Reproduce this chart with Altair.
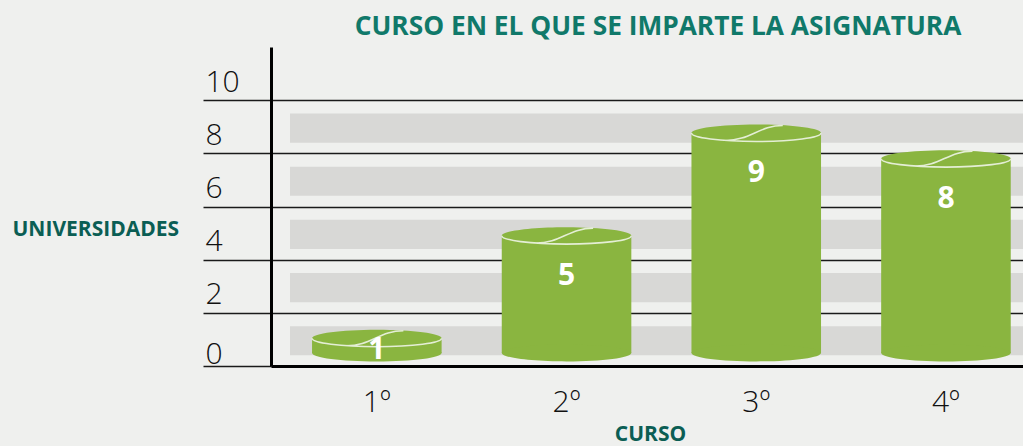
import altair as alt
import pandas as pd

# ---- data ----
cursos = ["1º", "2º", "3º", "4º"]
universidades = [1, 5, 9, 8]
band_lo = [0.4, 2.4, 4.4, 6.4, 8.4]
band_hi = [1.5, 3.5, 5.5, 7.5, 9.5]
y_ticks = [0, 2, 4, 6, 8, 10]

df = pd.DataFrame({"curso": cursos, "valor": universidades})
bands = pd.DataFrame({"lo": band_lo, "hi": band_hi})

GREEN = "#8ab540"
BG = "#eff0ee"
BAND = "#d8d8d6"
TEAL = "#10796a"
TEAL_DARK = "#0b5e54"
FONT = "Open Sans"

ELLIPSE = ("M-1,0C-1,-0.0724,-0.5523,-0.131,0,-0.131C0.5523,-0.131,1,-0.0724,1,0"
           "C1,0.0724,0.5523,0.131,0,0.131C-0.5523,0.131,-1,0.0724,-1,0Z")
HIGHLIGHT = ("M-1,0C-1,0.0724,-0.5523,0.131,0,0.131C0.5523,0.131,1,0.0724,1,0"
             "M-0.47,0.116C-0.1,0.116,0.05,-0.116,0.41,-0.116")
SYM = 16770
BASE = 0.43

x_scale = alt.Scale(paddingInner=0.317, paddingOuter=0.1405, align=0.77)
x_enc = alt.X("curso:N", sort=cursos, scale=x_scale,
              axis=alt.Axis(title="CURSO", labelAngle=0, ticks=False, tickSize=0,
                            domainColor="#000", domainWidth=3,
                            labelFont=FONT, labelFontSize=30, labelColor="#111",
                            labelFontWeight=300,
                            labelBaseline="alphabetic", labelPadding=45,
                            titleFont=FONT, titleFontSize=21, titleFontWeight="bold",
                            titleColor=TEAL_DARK, titleX=379, titleY=74,
                            titleAlign="center", titleBaseline="alphabetic"))

axis_scale = alt.Scale(domain=[0, 12], nice=False, zero=False)
cyl_scale = alt.Scale(domain=[-0.08, 12.35], nice=False, zero=False)

band_layer = alt.Chart(bands).mark_rect(color=BAND).encode(
    x=alt.value(19), x2=alt.value(752),
    y=alt.Y("lo:Q", scale=axis_scale,
            axis=alt.Axis(values=y_ticks, grid=True, gridColor="#1a1a1a", gridWidth=1.5,
                          ticks=True, tickSize=68, tickColor="#1a1a1a", tickWidth=1.5,
                          domainColor="#000", domainWidth=3,
                          labelFont=FONT, labelFontSize=30, labelColor="#111",
                          labelFontWeight=300,
                          labelAlign="left", labelPadding=-2, labelBaseline="alphabetic",
                          labelOffset={"condition": {"test": "datum.value === 0", "value": -3},
                                       "value": -9},
                          title="UNIVERSIDADES", titleAngle=0, titleFont=FONT,
                          titleFontSize=21, titleFontWeight="bold", titleColor=TEAL_DARK,
                          titleAlign="left", titleBaseline="middle",
                          titleX=-259, titleY=182)),
    y2="hi:Q",
)

base = alt.Chart(df)

body = base.mark_bar(color=GREEN).encode(
    x=x_enc,
    y=alt.Y("valor:Q", scale=cyl_scale, axis=None),
    y2=alt.Y2(datum=BASE),
)
bottom = base.mark_point(shape=ELLIPSE, filled=True, color=GREEN, size=SYM, opacity=1).encode(
    x=alt.X("curso:N", sort=cursos, scale=x_scale),
    y=alt.Y(datum=BASE, type="quantitative", scale=cyl_scale, axis=None),
)
top = base.mark_point(shape=ELLIPSE, filled=True, color=GREEN, size=SYM, opacity=1).encode(
    x=alt.X("curso:N", sort=cursos, scale=x_scale),
    y=alt.Y("valor:Q", scale=cyl_scale, axis=None),
)
hl = base.mark_point(shape=HIGHLIGHT, filled=False, stroke="#e4eed5", strokeWidth=1.6,
                     size=SYM, opacity=1).encode(
    x=alt.X("curso:N", sort=cursos, scale=x_scale),
    y=alt.Y("valor:Q", scale=cyl_scale, axis=None),
)
labels = base.transform_calculate(
    ly="max(datum.valor - 1.36, 0.73)"
).mark_text(color="white", font=FONT, fontSize=30, fontWeight="bold", baseline="middle",
            dy=5).encode(
    x=alt.X("curso:N", sort=cursos, scale=x_scale),
    y=alt.Y("ly:Q", scale=cyl_scale, axis=None),
    text="valor:Q",
)

chart = alt.layer(band_layer, body, bottom, top, hl, labels).resolve_scale(
    y="independent"
).properties(
    width=752, height=319,
    title=alt.TitleParams("CURSO EN EL QUE SE IMPARTE LA ASIGNATURA", font=FONT,
                          fontSize=26.3, fontWeight="bold", color=TEAL, anchor="middle",
                          dx=11, dy=26, offset=12, baseline="alphabetic"),
    autosize=alt.AutoSizeParams(type="none"),
    padding={"left": 271, "top": 47, "right": 0, "bottom": 80},
    background=BG,
).configure_view(stroke=None)

chart.save("out.html", embed_options={"renderer": "svg", "actions": False})
